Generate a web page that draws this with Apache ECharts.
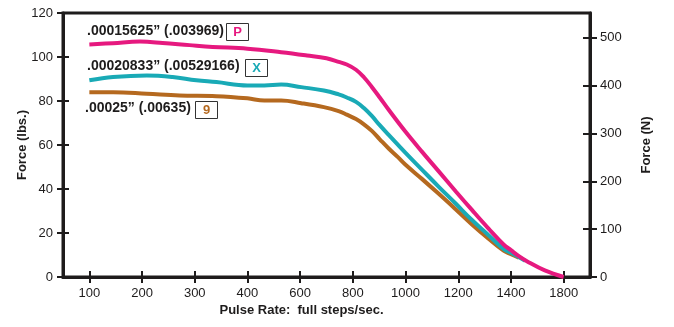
<!DOCTYPE html>
<html>
<head>
<meta charset="utf-8">
<script src="https://cdn.jsdelivr.net/npm/echarts@6/dist/echarts.min.js"></script>
<style>html,body{margin:0;padding:0;background:#fff;}#c{width:674px;height:327px;}</style>
</head>
<body>
<div id="c"></div>
<script>
// Tick labels of the pulse-rate axis (equally spaced on the chart)
const xTickLabels = ['100','200','300','400','600','800','1000','1200','1400','1800'];
const xTickValues = [100,200,300,400,600,800,1000,1200,1400,1800];

// Series: pulse rate (full steps/sec) and force (lbs.)
const pRate  = [100,145,196,239,290,334,400,528,626,700,746,777,812,842,872,902,936,1000,1062,1126,1190,1251,1315,1372,1400,1460,1521,1657,1800];
const pForce = [105.7,106.3,107,106.4,105.4,104.6,103.8,102.2,100.7,99.4,97.8,96.6,94.2,90.8,86.4,81.6,76,66,57,48,39,30.6,22,14.8,12.2,9.5,7.2,3,0];

const xRate  = [100,145,209,258,303,341,400,464,528,604,690,746,777,812,842,872,902,936,1000,1062,1126,1190,1251,1315,1372,1400,1508];
const xForce = [89.4,90.9,91.6,90.9,89.4,88.6,87.1,87.1,87.5,86.3,84.8,83,81.6,79.6,76.8,73.2,69,64.6,56.4,48.8,41,33.4,26,19,12.8,11,7.4];

const nRate  = [100,145,209,271,341,400,464,528,604,690,746,777,812,842,872,902,936,970,1000,1062,1126,1190,1251,1315,1372,1400,1460];
const nForce = [84,84,83.3,82.5,82.2,81.2,80.2,80.2,79,77.2,75.4,73.8,71.8,69.4,66.4,62.6,58.4,54.6,51,44.6,37.8,30.8,24,17.4,12,10.4,8.8];

const labels = [
  {text: '.00015625\u201D (.003969)', tag: 'P', color: '#e6197f'},
  {text: '.00020833\u201D (.00529166)', tag: 'X', color: '#19aab6'},
  {text: '.00025\u201D (.00635)', tag: '9', color: '#b5691f'}
];

function rateToPos(r) {
  for (let i = 0; i < xTickValues.length - 1; i++) {
    if (r <= xTickValues[i + 1]) {
      return i + (r - xTickValues[i]) / (xTickValues[i + 1] - xTickValues[i]);
    }
  }
  return xTickValues.length - 1;
}
function pairs(rs, fs) { return rs.map((r, i) => [rateToPos(r), fs[i]]); }

const FONT = 'Liberation Sans, Arial, Helvetica, sans-serif';
const INK = '#1e1c1c';
const chart = echarts.init(document.getElementById('c'), null, {renderer: 'canvas'});

const tickStyle = {color: INK, width: 2};
const lineStyle = {color: INK, width: 3};

chart.setOption({
  animation: false,
  backgroundColor: '#fff',
  grid: {left: 63, right: 84, top: 13, bottom: 50, show: true, borderColor: INK, borderWidth: 3, backgroundColor: 'transparent'},
  xAxis: [
    {type: 'category', data: xTickLabels, boundaryGap: true, position: 'bottom', offset: 0,
     axisLine: {show: true, onZero: false, lineStyle: lineStyle},
     axisTick: {show: true, alignWithLabel: true, length: 6, lineStyle: tickStyle},
     axisLabel: {show: true, margin: 10, color: INK, fontSize: 13, fontFamily: FONT, interval: 0},
     splitLine: {show: false},
     name: 'Pulse Rate:  full steps/sec.', nameLocation: 'middle', nameGap: 27, nameMoveOverlap: false,
     nameTextStyle: {color: INK, fontSize: 13, fontWeight: 'bold', fontFamily: FONT, padding: [0, 50, 0, 0]}},
    {type: 'category', data: xTickLabels, boundaryGap: true, position: 'bottom', offset: 0,
     axisLine: {show: false, onZero: false},
     axisTick: {show: true, inside: true, alignWithLabel: true, length: 6, lineStyle: tickStyle},
     axisLabel: {show: false}, splitLine: {show: false}},
    {type: 'value', min: -0.5, max: 9.5, show: false, axisLine: {onZero: false}, splitLine: {show: false}}
  ],
  yAxis: [
    {type: 'value', min: 0, max: 120, interval: 20, position: 'left',
     axisLine: {show: true, onZero: false, lineStyle: lineStyle},
     axisTick: {show: true, length: 6, lineStyle: tickStyle},
     axisLabel: {margin: 10, color: INK, fontSize: 13, fontFamily: FONT},
     splitLine: {show: false},
     name: 'Force (lbs.)', nameLocation: 'middle', nameGap: 34, nameRotate: 90, nameMoveOverlap: false,
     nameTextStyle: {color: INK, fontSize: 13, fontWeight: 'bold', fontFamily: FONT}},
    {type: 'value', min: 0, max: 552, interval: 100, position: 'right',
     axisLine: {show: true, onZero: false, lineStyle: lineStyle},
     axisTick: {show: true, length: 7, lineStyle: tickStyle},
     axisLabel: {margin: 10, color: INK, fontSize: 13, fontFamily: FONT, showMaxLabel: false,
                 formatter: v => (v % 100 === 0 ? String(v) : '')},
     splitLine: {show: false},
     name: 'Force (N)', nameLocation: 'middle', nameGap: 50, nameRotate: 90, nameMoveOverlap: false,
     nameTextStyle: {color: INK, fontSize: 13, fontWeight: 'bold', fontFamily: FONT}},
    {type: 'value', min: 0, max: 120, interval: 20, position: 'left',
     axisLine: {show: false, onZero: false},
     axisTick: {show: true, inside: true, length: 6, lineStyle: tickStyle},
     axisLabel: {show: false}, splitLine: {show: false}},
    {type: 'value', min: 0, max: 552, interval: 100, position: 'right',
     axisLine: {show: false, onZero: false},
     axisTick: {show: true, inside: true, length: 7, lineStyle: tickStyle,
                customValues: [0,100,200,300,400,500]},
     axisLabel: {show: false}, splitLine: {show: false}}
  ],
  series: [
    {name: labels[2].tag, type: 'line', xAxisIndex: 2, yAxisIndex: 0, data: pairs(nRate, nForce),
     smooth: 0.4, showSymbol: false, lineStyle: {color: labels[2].color, width: 4}, z: 3},
    {name: labels[1].tag, type: 'line', xAxisIndex: 2, yAxisIndex: 0, data: pairs(xRate, xForce),
     smooth: 0.4, showSymbol: false, lineStyle: {color: labels[1].color, width: 4}, z: 4},
    {name: labels[0].tag, type: 'line', xAxisIndex: 2, yAxisIndex: 0, data: pairs(pRate, pForce),
     smooth: 0.4, showSymbol: false, lineStyle: {color: labels[0].color, width: 4}, z: 5}
  ],
  graphic: [
    {type: 'text', left: 87, top: 24, style: {text: labels[0].text, fill: INK, font: 'bold 14px ' + FONT}},
    {type: 'rect', shape: {x: 226.5, y: 23.5, width: 22, height: 17}, style: {fill: '#fff', stroke: '#333', lineWidth: 1}},
    {type: 'text', x: 237.5, y: 32, style: {text: labels[0].tag, fill: labels[0].color, font: 'bold 13px ' + FONT, align: 'center', verticalAlign: 'middle'}},

    {type: 'text', left: 87, top: 59, style: {text: labels[1].text, fill: INK, font: 'bold 14px ' + FONT}},
    {type: 'rect', shape: {x: 245.5, y: 59.5, width: 22, height: 17}, style: {fill: '#fff', stroke: '#333', lineWidth: 1}},
    {type: 'text', x: 256.5, y: 68, style: {text: labels[1].tag, fill: labels[1].color, font: 'bold 13px ' + FONT, align: 'center', verticalAlign: 'middle'}},

    {type: 'text', left: 85, top: 101, style: {text: labels[2].text, fill: INK, font: 'bold 14px ' + FONT}},
    {type: 'rect', shape: {x: 195.5, y: 101.5, width: 22, height: 17}, style: {fill: '#fff', stroke: '#333', lineWidth: 1}},
    {type: 'text', x: 206.5, y: 110, style: {text: labels[2].tag, fill: labels[2].color, font: 'bold 13px ' + FONT, align: 'center', verticalAlign: 'middle'}}
  ]
});
</script>
</body>
</html>
